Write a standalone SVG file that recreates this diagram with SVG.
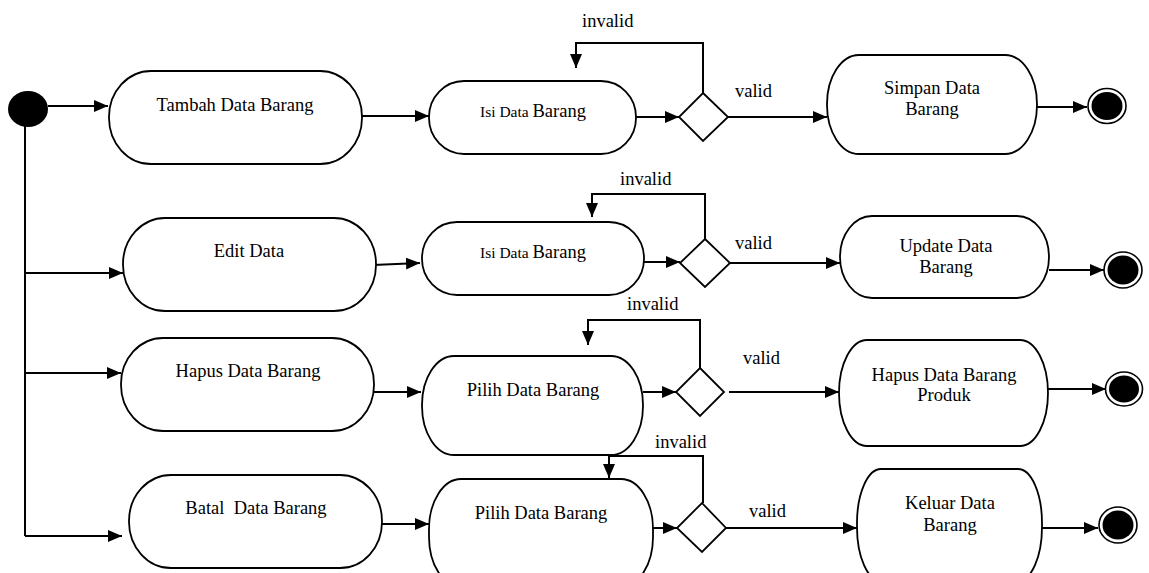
<svg xmlns="http://www.w3.org/2000/svg" width="1149" height="573" viewBox="0 0 1149 573">
<style>
.node{fill:#fff;stroke:#000;stroke-width:1.8}
.t{font-family:"Liberation Serif","Times New Roman",serif;font-size:18.5px;fill:#000;text-anchor:middle}
.s{font-size:15.5px}
.lbl{font-family:"Liberation Serif","Times New Roman",serif;font-size:18.5px;fill:#000}
.c{fill:none;stroke:#000;stroke-width:2}
.a{marker-end:url(#ah)}
</style>
<defs>
<marker id="ah" viewBox="0 0 14 12" refX="14" refY="6" markerWidth="14" markerHeight="12" markerUnits="userSpaceOnUse" orient="auto">
<path d="M0,0 L14,6 L0,12 z" fill="#000"/>
</marker>
</defs>
<rect width="1149" height="573" fill="#fff"/>
<g id="connectors">
<path class="c a" d="M48,106 H108"/>
<path class="c" d="M25,124 V536"/>
<path class="c a" d="M25,273 H123"/>
<path class="c a" d="M25,373 H121"/>
<path class="c a" d="M25,536 H122"/>
<path class="c a" d="M362,116 H429"/>
<path class="c a" d="M373,265 L420,263"/>
<path class="c a" d="M374,392 H421"/>
<path class="c a" d="M382,524 H429"/>
<path class="c a" d="M636,117 H679"/>
<path class="c a" d="M644,262 H680"/>
<path class="c a" d="M643,392 H676"/>
<path class="c a" d="M648,528 H677"/>
<path class="c a" d="M703,93 V43 H576 V68"/>
<path class="c a" d="M705,239 V194 H592 V217"/>
<path class="c a" d="M700,368 V320 H588 V345"/>
<path class="c a" d="M703,503 V456 H609 V478"/>
<path class="c a" d="M728,117 H827"/>
<path class="c a" d="M730,263 H840"/>
<path class="c a" d="M729,392 H839"/>
<path class="c a" d="M726,528 H857"/>
<path class="c a" d="M1033,107 H1087"/>
<path class="c a" d="M1049,270 H1104"/>
<path class="c a" d="M1048,389 H1106"/>
<path class="c a" d="M1042,528 H1098"/>
<text class="lbl" x="582" y="27">invalid</text>
<text class="lbl" x="620" y="185">invalid</text>
<text class="lbl" x="627" y="310">invalid</text>
<text class="lbl" x="655" y="448">invalid</text>
<text class="lbl" x="735" y="97">valid</text>
<text class="lbl" x="735" y="249">valid</text>
<text class="lbl" x="743" y="364">valid</text>
<text class="lbl" x="749" y="517">valid</text>
</g>
<g id="start"><ellipse cx="28" cy="109" rx="20" ry="18" fill="#000"/></g>
<g id="tambah"><rect class="node" x="109" y="71" width="253" height="93" rx="42" ry="46"/><text class="t" x="235" y="111">Tambah Data Barang</text></g>
<g id="edit"><rect class="node" x="123" y="218" width="253" height="93" rx="42" ry="46"/><text class="t" x="249" y="257">Edit Data</text></g>
<g id="hapus"><rect class="node" x="121" y="338" width="253" height="93" rx="42" ry="46"/><text class="t" x="248" y="377">Hapus Data Barang</text></g>
<g id="batal"><rect class="node" x="129" y="475" width="253" height="93" rx="42" ry="46"/><text class="t" x="256" y="514" style="white-space:pre">Batal  Data Barang</text></g>
<g id="isi1"><rect class="node" x="429" y="81" width="207" height="73" rx="35" ry="36"/><text class="t" x="533" y="117"><tspan class="s">Isi Data </tspan>Barang</text></g>
<g id="isi2"><rect class="node" x="422" y="222" width="222" height="73" rx="35" ry="36"/><text class="t" x="533" y="258"><tspan class="s">Isi Data </tspan>Barang</text></g>
<g id="pilih1"><rect class="node" x="422" y="356" width="221" height="99" rx="32" ry="49"/><text class="t" x="533" y="396">Pilih Data Barang</text></g>
<g id="pilih2"><rect class="node" x="429" y="479" width="224" height="108" rx="32" ry="50"/><text class="t" x="541" y="519">Pilih Data Barang</text></g>
<g id="d1"><path class="node" d="M703,93 L728,117 L703,141 L679,117 z"/></g>
<g id="d2"><path class="node" d="M705,239 L730,263 L705,287 L680,263 z"/></g>
<g id="d3"><path class="node" d="M700,368 L724,392 L700,416 L676,392 z"/></g>
<g id="d4"><path class="node" d="M702,503 L726,528 L702,552 L677,528 z"/></g>
<g id="simpan"><rect class="node" x="827" y="55" width="210" height="99" rx="32" ry="49"/><text class="t" x="932" y="94">Simpan Data</text><text class="t" x="932" y="115">Barang</text></g>
<g id="update"><rect class="node" x="840" y="216" width="209" height="82" rx="32" ry="41"/><text class="t" x="946" y="252">Update Data</text><text class="t" x="946" y="273">Barang</text></g>
<g id="hapusproduk"><rect class="node" x="839" y="340" width="209" height="106" rx="28" ry="53"/><text class="t" x="944" y="381">Hapus Data Barang</text><text class="t" x="944" y="401">Produk</text></g>
<g id="keluar"><rect class="node" x="857" y="469" width="185" height="112" rx="24" ry="54"/><text class="t" x="950" y="509">Keluar Data</text><text class="t" x="950" y="531">Barang</text></g>
<g id="end1"><ellipse cx="1107" cy="106" rx="19" ry="17.5" fill="#fff" stroke="#000" stroke-width="1.6"/><ellipse cx="1107" cy="106" rx="15.5" ry="14" fill="#000"/></g>
<g id="end2"><ellipse cx="1123" cy="270" rx="19" ry="18" fill="#fff" stroke="#000" stroke-width="1.6"/><ellipse cx="1123" cy="270" rx="15.5" ry="14.5" fill="#000"/></g>
<g id="end3"><ellipse cx="1124" cy="389" rx="18.5" ry="17" fill="#fff" stroke="#000" stroke-width="1.6"/><ellipse cx="1124" cy="389" rx="15" ry="13.5" fill="#000"/></g>
<g id="end4"><ellipse cx="1118" cy="525" rx="19" ry="18" fill="#fff" stroke="#000" stroke-width="1.6"/><ellipse cx="1118" cy="525" rx="15.5" ry="14.5" fill="#000"/></g>
</svg>
